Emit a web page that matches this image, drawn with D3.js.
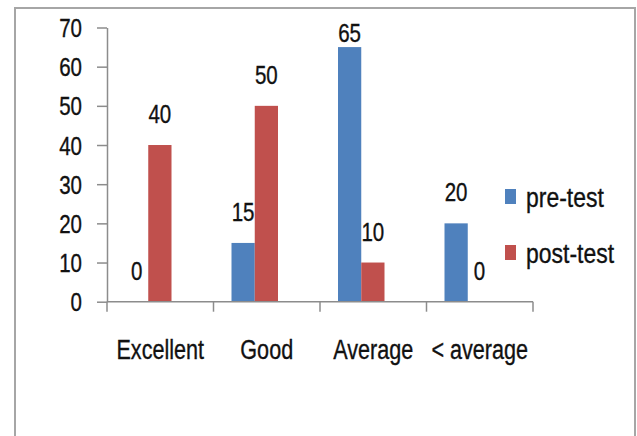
<!DOCTYPE html>
<html>
<head>
<meta charset="utf-8">
<script src="https://cdn.jsdelivr.net/npm/d3@7"></script>
<style>
  body { margin: 0; background: #fff; }
  svg text { font-family: "Liberation Sans", Arial, sans-serif; fill: #111; stroke: #111; stroke-width: 0.35px; }
</style>
</head>
<body>
<div id="chart"></div>
<script>
const categories = ['Excellent', 'Good', 'Average', '< average'];
const seriesNames = ['pre-test', 'post-test'];
const preTest = [0, 15, 65, 20];
const postTest = [40, 50, 10, 0];
const yTicks = [0, 10, 20, 30, 40, 50, 60, 70];
const colors = ['#4F81BD', '#C0504D'];

const W = 637, H = 436;
const plot = { left: 107, right: 533, top: 27.5, bottom: 301.7 };

const svg = d3.select('#chart').append('svg')
  .attr('width', W).attr('height', H);

// squeeze glyphs horizontally to mimic the narrow Calibri-like face
function condense(sel, f) {
  sel.each(function () {
    const w = this.getComputedTextLength();
    d3.select(this).attr('textLength', w * f).attr('lengthAdjust', 'spacingAndGlyphs');
  });
}

// outer frame (bottom edge runs off the picture)
svg.append('path')
  .attr('d', `M15,${H + 5}V8H635V${H + 5}`)
  .attr('fill', 'none').attr('stroke', '#a6a6a6').attr('stroke-width', 2);

const x0 = d3.scaleBand().domain(categories).range([plot.left, plot.right]);
const x1 = d3.scaleBand().domain(seriesNames).range([18, 64.5]);
const y = d3.scaleLinear().domain([0, 70]).range([plot.bottom, plot.top]);

const rows = categories.map((c, i) => ({ cat: c, values: [preTest[i], postTest[i]] }));

// y axis
const yAxisG = svg.append('g').attr('transform', `translate(${plot.left},0)`)
  .call(d3.axisLeft(y).tickValues(yTicks).tickSize(10).tickSizeOuter(0).tickPadding(15));
yAxisG.attr('font-family', null);
yAxisG.select('.domain').attr('stroke', '#8c8c8c').attr('stroke-width', 1.5);
yAxisG.selectAll('.tick line').attr('stroke', '#8c8c8c').attr('stroke-width', 1.5);
yAxisG.selectAll('.tick text').attr('font-size', 25).attr('dy', '0.36em').call(condense, 0.82);

// bars
const groups = svg.append('g').selectAll('g').data(rows).join('g')
  .attr('transform', (d) => `translate(${x0(d.cat)},0)`);

groups.selectAll('rect').data((d) => d.values.map((v, k) => ({ v, k })))
  .join('rect')
  .attr('x', (d) => x1(seriesNames[d.k]))
  .attr('width', x1.bandwidth())
  .attr('y', (d) => y(d.v))
  .attr('height', (d) => y(0) - y(d.v))
  .attr('fill', (d) => colors[d.k]);

groups.selectAll('text.val').data((d) => d.values.map((v, k) => ({ v, k })))
  .join('text').attr('class', 'val')
  .attr('x', (d) => x1(seriesNames[d.k]) + x1.bandwidth() / 2)
  .attr('y', (d) => Math.max(y(d.v) - 31, 33))
  .attr('dy', '0.36em')
  .attr('text-anchor', 'middle').attr('font-size', 25)
  .text((d) => d.v)
  .call(condense, 0.82);

// x axis line and category ticks at band edges
const xAxisG = svg.append('g');
xAxisG.append('line')
  .attr('x1', plot.left).attr('x2', plot.right)
  .attr('y1', y(0)).attr('y2', y(0))
  .attr('stroke', '#8c8c8c').attr('stroke-width', 1.5);
const edges = categories.map((c) => x0(c)).concat([x0.range()[1]]);
xAxisG.selectAll('line.tk').data(edges).join('line').attr('class', 'tk')
  .attr('x1', (d) => d).attr('x2', (d) => d)
  .attr('y1', y(0)).attr('y2', y(0) + 10)
  .attr('stroke', '#8c8c8c').attr('stroke-width', 1.5);
xAxisG.selectAll('text').data(categories).join('text')
  .attr('x', (d) => x0(d) + x0.bandwidth() / 2)
  .attr('y', 349).attr('dy', '0.36em')
  .attr('text-anchor', 'middle').attr('font-size', 27)
  .text((d) => d)
  .call(condense, 0.8);

// legend
const legend = svg.append('g').selectAll('g').data(seriesNames).join('g')
  .attr('transform', (d, i) => `translate(505,${197 + i * 56})`);
legend.append('rect')
  .attr('x', 0).attr('y', -8).attr('width', 11).attr('height', 15)
  .attr('fill', (d, i) => colors[i]);
legend.append('text')
  .attr('x', 21).attr('y', 0).attr('dy', '0.36em')
  .attr('font-size', 27)
  .text((d) => d)
  .call(condense, 0.85);
</script>
</body>
</html>
